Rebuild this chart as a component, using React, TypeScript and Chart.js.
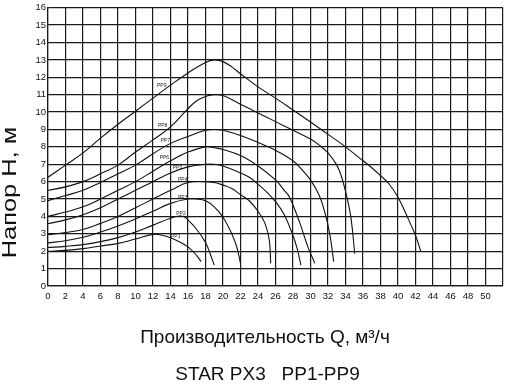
import React, { useEffect, useRef } from 'react';
import { Chart, registerables } from 'chart.js';

Chart.register(...registerables);

// Axis ranges / ticks
const xMin = 0;
const xMax = 52;
const xStep = 2;
const yMin = 0;
const yMax = 16;
const yStep = 1;

// Curves: flow Q (m3/h) and head H (m)
const pp1Q = [0, 2, 4, 6, 8, 10, 12, 13, 14, 15, 16, 17, 17.5];
const pp1H = [2.0, 2.05, 2.15, 2.3, 2.45, 2.7, 2.97, 2.92, 2.78, 2.55, 2.25, 1.75, 1.4];

const pp2Q = [0, 2, 4, 6, 8, 10, 12, 14, 15, 15.5, 16, 17, 18, 18.5, 19];
const pp2H = [2.21, 2.28, 2.38, 2.55, 2.78, 3.1, 3.5, 3.9, 4.02, 4.0, 3.8, 3.25, 2.5, 1.9, 1.2];

const pp3Q = [0, 2, 4, 6, 8, 10, 12, 14, 16, 17, 18, 19, 20, 21, 21.6, 22];
const pp3H = [2.48, 2.6, 2.8, 3.1, 3.45, 3.85, 4.3, 4.75, 5.0, 5.0, 4.9, 4.55, 3.95, 3.0, 2.2, 1.3];

const pp4Q = [0, 2, 4, 6, 8, 10, 12, 14, 16, 18, 19, 20, 21, 22, 23, 24, 24.8, 25.3, 25.45];
const pp4H = [2.95, 3.08, 3.25, 3.6, 4.0, 4.5, 5.0, 5.5, 5.95, 6.0, 5.95, 5.8, 5.6, 5.25, 4.9, 4.3, 3.6, 2.6, 1.3];

const pp5Q = [0, 2, 4, 6, 8, 10, 12, 14, 16, 18, 19, 20, 22, 23, 24, 25, 26, 27, 28, 28.5, 28.9];
const pp5H = [3.58, 3.8, 4.1, 4.5, 5.0, 5.5, 6.0, 6.5, 6.85, 7.0, 7.0, 6.9, 6.5, 6.25, 5.85, 5.4, 4.85, 4.1, 2.9, 2.1, 1.2];

const pp6Q = [0, 2, 4, 6, 8, 10, 12, 14, 16, 18, 19, 20, 22, 24, 26, 27, 27.6, 28.8, 29.7, 30.5];
const pp6H = [4.0, 4.25, 4.55, 5.0, 5.5, 6.0, 6.6, 7.2, 7.7, 8.0, 7.95, 7.85, 7.5, 6.9, 6.1, 5.5, 5.1, 3.6, 2.25, 1.3];

const pp7Q = [0, 2, 4, 6, 8, 10, 12, 14, 16, 18, 19, 20, 22, 24, 26, 28, 29, 30, 31, 31.6, 32.2, 32.65];
const pp7H = [4.91, 5.2, 5.5, 5.95, 6.45, 6.95, 7.6, 8.2, 8.6, 8.95, 9.0, 8.95, 8.65, 8.25, 7.8, 7.2, 6.7, 6.1, 5.2, 4.3, 3.0, 1.4];

const pp8Q = [0, 2, 4, 6, 8, 10, 12, 14, 16, 17, 18, 19, 20, 22, 24, 26, 28, 30, 31, 32, 33, 33.5, 34, 34.5, 34.8, 35.05];
const pp8H = [5.5, 5.7, 6.0, 6.45, 6.95, 7.7, 8.4, 9.15, 10.2, 10.65, 10.9, 11.0, 10.95, 10.45, 9.95, 9.45, 8.95, 8.45, 8.1, 7.65, 6.95, 6.35, 5.45, 4.3, 3.2, 1.85];

const pp9Q = [0, 2, 4, 6, 8, 10, 12, 14, 16, 18, 19, 20, 21, 22, 24, 26, 28, 30, 32, 34, 36, 37, 38, 39, 40, 41, 42, 42.6];
const pp9H = [6.25, 6.95, 7.65, 8.5, 9.3, 10.05, 10.8, 11.55, 12.25, 12.85, 13.0, 12.9, 12.6, 12.2, 11.45, 10.8, 10.12, 9.43, 8.72, 8.0, 7.2, 6.8, 6.35, 5.85, 5.1, 4.05, 2.9, 2.0];

// Curve labels and their anchor positions (data units)
const curveNames = ['PP1', 'PP2', 'PP3', 'PP4', 'PP5', 'PP6', 'PP7', 'PP8', 'PP9'];
const labelQ = [14.6, 15.2, 15.4, 15.4, 14.8, 13.3, 13.4, 13.1, 13.0];
const labelH = [2.86, 4.17, 5.09, 6.11, 6.8, 7.37, 8.34, 9.2, 11.54];

const yTitle = 'Напор Н, м';
const xTitle = 'Производительность Q, м³/ч';
const bottomTitle = 'STAR PX3   PP1-PP9';

const curvesQ = [pp1Q, pp2Q, pp3Q, pp4Q, pp5Q, pp6Q, pp7Q, pp8Q, pp9Q];
const curvesH = [pp1H, pp2H, pp3H, pp4H, pp5H, pp6H, pp7H, pp8H, pp9H];

const FONT = 'Arial, "Liberation Sans", sans-serif';

const textPlugin = {
  id: 'textPlugin',
  afterDatasetsDraw(chart: any) {
    const ctx = chart.ctx as CanvasRenderingContext2D;
    const xs = chart.scales.x;
    const ys = chart.scales.y;
    ctx.save();
    ctx.fillStyle = '#222';
    ctx.font = `5px ${FONT}`;
    ctx.textAlign = 'center';
    ctx.textBaseline = 'middle';
    curveNames.forEach((n, i) => {
      ctx.fillText(n, xs.getPixelForValue(labelQ[i]), ys.getPixelForValue(labelH[i]));
    });
    ctx.restore();
  },
  afterDraw(chart: any) {
    const ctx = chart.ctx as CanvasRenderingContext2D;
    ctx.save();
    ctx.fillStyle = '#111';
    // Y title
    ctx.save();
    ctx.translate(10, 192.5);
    ctx.rotate(-Math.PI / 2);
    ctx.scale(1.27, 1);
    ctx.font = `20px ${FONT}`;
    ctx.textAlign = 'center';
    ctx.textBaseline = 'middle';
    ctx.fillText(yTitle, 0, 0);
    ctx.restore();
    // X title
    ctx.font = `19px ${FONT}`;
    ctx.textAlign = 'center';
    ctx.textBaseline = 'alphabetic';
    ctx.fillText(xTitle, 265, 343);
    // Bottom title
    ctx.font = `19px ${FONT}`;
    ctx.fillText(bottomTitle, 267.5, 380);
    ctx.restore();
  },
};

export default function App() {
  const ref = useRef<HTMLCanvasElement>(null);
  useEffect(() => {
    document.body.style.margin = '0';
    const datasets = curvesQ.map((qs, i) => ({
      label: curveNames[i],
      data: qs.map((q, j) => ({ x: q, y: curvesH[i][j] })),
      borderColor: '#111',
      borderWidth: 1.1,
      pointRadius: 0,
      fill: false,
      tension: 0.4,
    }));
    const chart = new Chart(ref.current!, {
      type: 'line',
      data: { datasets },
      options: {
        animation: false,
        responsive: false,
        devicePixelRatio: 1,
        layout: { padding: { left: 0, right: 5, top: 6, bottom: 0 } },
        plugins: {
          legend: { display: false },
          tooltip: { enabled: false },
          title: { display: false },
        },
        scales: {
          x: {
            type: 'linear',
            min: xMin,
            max: xMax,
            ticks: {
              stepSize: xStep,
              autoSkip: false,
              maxRotation: 0,
              padding: 5,
              color: '#111',
              font: { size: 9.5, family: FONT },
              callback: (v: any) => (v === xMax ? '' : String(v)),
            },
            grid: { color: '#1a1a1a', lineWidth: 1.2, drawTicks: false },
            border: { display: true, color: '#1a1a1a', width: 1.2 },
            afterFit: (s: any) => {
              s.height = 100;
            },
          },
          y: {
            type: 'linear',
            min: yMin,
            max: yMax,
            ticks: {
              stepSize: yStep,
              padding: 2,
              color: '#111',
              font: { size: 9.5, family: FONT },
            },
            grid: { color: '#1a1a1a', lineWidth: 1.2, drawTicks: false },
            border: { display: true, color: '#1a1a1a', width: 1.2 },
            afterFit: (s: any) => {
              s.width = 48;
            },
          },
        },
      },
      plugins: [textPlugin],
    });
    return () => chart.destroy();
  }, []);
  return (
    <div style={{ width: 508, height: 386, background: '#fff' }}>
      <canvas ref={ref} width={508} height={386} style={{ display: 'block' }} />
    </div>
  );
}
